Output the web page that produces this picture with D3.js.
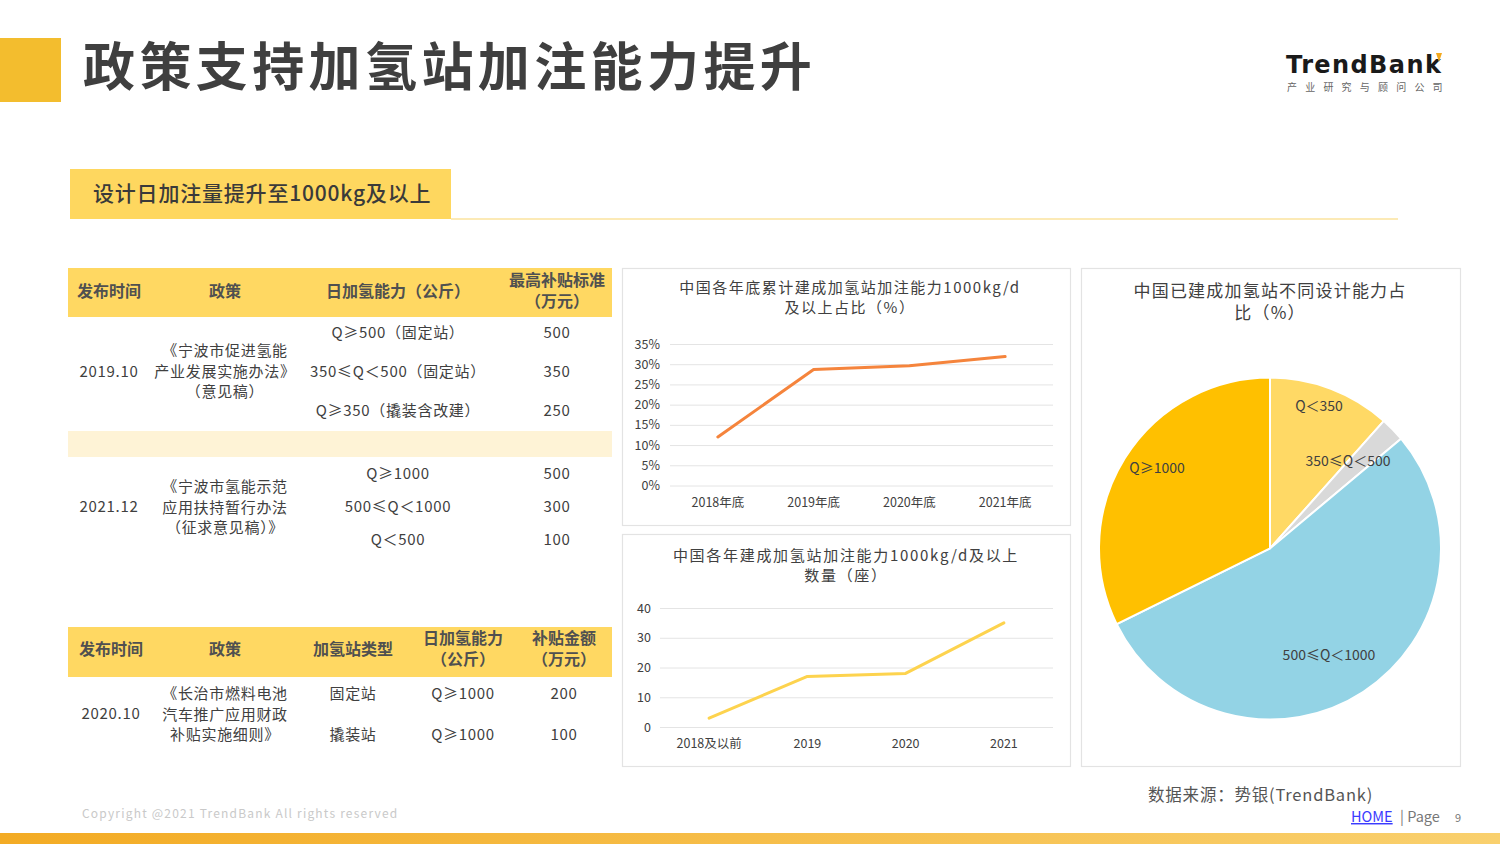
<!DOCTYPE html>
<html><head><meta charset="utf-8">
<script src="https://cdn.jsdelivr.net/npm/d3@7/dist/d3.min.js"></script>
<style>
html,body{margin:0;padding:0;background:#fff;}
svg{display:block;font-family:"Noto Sans CJK SC","Noto Sans",sans-serif;}
</style></head>
<body>
<svg id="c" width="1500" height="844"></svg>
<script>
// ---------- data ----------
const pageTitle = "政策支持加氢站加注能力提升";
const subTitle = "设计日加注量提升至1000kg及以上";

const ratioYears = ["2018年底","2019年底","2020年底","2021年底"];
const ratioValues = [12.0, 28.7, 29.6, 31.9];
const ratioTicks = [0,5,10,15,20,25,30,35];
const ratioTitle = ["中国各年底累计建成加氢站加注能力1000kg/d","及以上占比（%）"];

const countYears = ["2018及以前","2019","2020","2021"];
const countValues = [3, 17, 18, 35];
const countTicks = [0,10,20,30,40];
const countTitle = ["中国各年建成加氢站加注能力1000kg/d及以上","数量（座）"];

const pieLabels = ["Q＜350","350≤Q＜500","500≤Q＜1000","Q≥1000"];
const pieValues = [11.6, 2.3, 53.8, 32.3];
const pieTitle = ["中国已建成加氢站不同设计能力占","比（%）"];

const t1Header = [["发布时间"],["政策"],["日加氢能力（公斤）"],["最高补贴标准","（万元）"]];
const t1Dates = ["2019.10","2021.12"];
const t1Policies = [["《宁波市促进氢能","产业发展实施办法》","（意见稿）"],["《宁波市氢能示范","应用扶持暂行办法","（征求意见稿）》"]];
const t1Capacity = [["Q≥500（固定站）","350≤Q＜500（固定站）","Q≥350（撬装含改建）"],["Q≥1000","500≤Q＜1000","Q＜500"]];
const t1Subsidy = [["500","350","250"],["500","300","100"]];

const t2Header = [["发布时间"],["政策"],["加氢站类型"],["日加氢能力","（公斤）"],["补贴金额","（万元）"]];
const t2Date = "2020.10";
const t2Policy = ["《长治市燃料电池","汽车推广应用财政","补贴实施细则》"];
const t2Types = ["固定站","撬装站"];
const t2Capacity = ["Q≥1000","Q≥1000"];
const t2Subsidy = ["200","100"];

// ---------- drawing ----------
const svg = d3.select("#c");
const txt = "#404040";

// header
svg.append("rect").attr("x",0).attr("y",38).attr("width",61).attr("height",64).attr("fill","#F3BD2E");
svg.append("text").attr("x",83).attr("y",86).attr("font-size",52).attr("font-weight",700)
  .attr("letter-spacing",4.4).attr("fill","#3f3f3f").text(pageTitle);

// logo
svg.append("text").attr("x",1286).attr("y",73).attr("font-family","'DejaVu Sans',sans-serif").attr("font-size",24).attr("font-weight",700)
  .attr("fill","#1a1a1a").attr("letter-spacing",1.4).text("TrendBank");
svg.append("path").attr("d","M1436,53 l6,0 l-3,9 z").attr("fill","#F3A91F");
svg.append("text").attr("x",1287).attr("y",91).attr("font-size",10).attr("letter-spacing",8.2)
  .attr("fill","#666").text("产业研究与顾问公司");

// sub title box
svg.append("rect").attr("x",70).attr("y",169).attr("width",381).attr("height",50).attr("fill","#FED75F");
svg.append("text").attr("x",93).attr("y",201).attr("font-size",21).attr("font-weight",500)
  .attr("fill","#3a3a3a").attr("letter-spacing",0.8).text(subTitle);
svg.append("line").attr("x1",451).attr("x2",1398).attr("y1",219).attr("y2",219)
  .attr("stroke","#FBE39E").attr("stroke-width",1.5);

// ---------- table 1 ----------
const T = svg.append("g").attr("fill",txt).attr("font-size",15).attr("letter-spacing",0.7);
T.append("rect").attr("x",68).attr("y",268).attr("width",544).attr("height",49).attr("fill","#FFD862");
T.append("rect").attr("x",68).attr("y",431).attr("width",544).attr("height",26).attr("fill","#FEF3D6");
const t1Cols = [109, 225, 398, 557];
t1Header.forEach((lines,i)=>{
  const y0 = lines.length===1 ? 297 : 286;
  lines.forEach((l,j)=>T.append("text").attr("x",t1Cols[i]).attr("y",y0+j*21).attr("text-anchor","middle")
    .attr("font-weight",700).attr("fill","#505050").attr("letter-spacing",0).attr("font-size",16).text(l));
});
const t1RowYs = [[332,371,410],[473,506,539]];
const t1PolYs = [[350,371,391],[486,507,527]];
[0,1].forEach(g=>{
  T.append("text").attr("x",t1Cols[0]).attr("y",t1RowYs[g][1]+6).attr("text-anchor","middle").text(t1Dates[g]);
  t1Policies[g].forEach((l,j)=>T.append("text").attr("x",t1Cols[1]).attr("y",t1PolYs[g][j]+6).attr("text-anchor","middle").text(l));
  t1Capacity[g].forEach((l,j)=>T.append("text").attr("x",t1Cols[2]).attr("y",t1RowYs[g][j]+6).attr("text-anchor","middle").text(l));
  t1Subsidy[g].forEach((l,j)=>T.append("text").attr("x",t1Cols[3]).attr("y",t1RowYs[g][j]+6).attr("text-anchor","middle").text(l));
});

// ---------- table 2 ----------
T.append("rect").attr("x",68).attr("y",627).attr("width",544).attr("height",50).attr("fill","#FFD862");
const t2Cols = [111, 225, 353, 463, 564];
t2Header.forEach((lines,i)=>{
  const y0 = lines.length===1 ? 655 : 644;
  lines.forEach((l,j)=>T.append("text").attr("x",t2Cols[i]).attr("y",y0+j*21).attr("text-anchor","middle")
    .attr("font-weight",700).attr("fill","#505050").attr("letter-spacing",0).attr("font-size",16).text(l));
});
T.append("text").attr("x",t2Cols[0]).attr("y",719).attr("text-anchor","middle").text(t2Date);
t2Policy.forEach((l,j)=>T.append("text").attr("x",t2Cols[1]).attr("y",699+j*20.5).attr("text-anchor","middle").text(l));
[0,1].forEach(r=>{
  const y = r===0 ? 699 : 740;
  T.append("text").attr("x",t2Cols[2]).attr("y",y).attr("text-anchor","middle").text(t2Types[r]);
  T.append("text").attr("x",t2Cols[3]).attr("y",y).attr("text-anchor","middle").text(t2Capacity[r]);
  T.append("text").attr("x",t2Cols[4]).attr("y",y).attr("text-anchor","middle").text(t2Subsidy[r]);
});

// ---------- panels ----------
function panel(x,y,w,h){
  svg.append("rect").attr("x",x+0.5).attr("y",y+0.5).attr("width",w).attr("height",h)
    .attr("fill","#fff").attr("stroke","#E3E3E3").attr("stroke-width",1.2);
}
panel(622,268,448,257);
panel(622,534,448,232);
panel(1081,268,379,498);

function titleLines(lines, cx, y0, dy, size, ls){
  lines.forEach((l,j)=>svg.append("text").attr("x",cx).attr("y",y0+j*dy).attr("text-anchor","middle")
    .attr("font-size",size).attr("letter-spacing",ls).attr("fill",txt).text(l));
}

const tickFont = s=>s.selectAll(".tick text").attr("fill",txt).attr("font-size",12.5)
  .attr("font-family","'Noto Sans CJK SC',sans-serif");

// line chart 1
titleLines(ratioTitle, 850, 293, 20, 15, 1.5);
{
  const x = d3.scaleBand().domain(ratioYears).range([670,1053]);
  const y = d3.scaleLinear().domain([0,35]).range([485.5,344]);
  const g = svg.append("g");
  const ya = d3.axisLeft(y).tickValues(ratioTicks).tickFormat(d=>d+"%").tickSize(-383).tickPadding(10);
  g.append("g").attr("transform","translate(670,0)").call(ya)
    .call(s=>s.select(".domain").remove())
    .call(s=>s.selectAll(".tick line").attr("stroke","#E4E4E4").attr("stroke-width",1))
    .call(tickFont);
  const xa = d3.axisBottom(x).tickSize(0).tickPadding(13);
  g.append("g").attr("transform","translate(0,485.5)").call(xa)
    .call(s=>s.select(".domain").remove())
    .call(tickFont);
  const line = d3.line().x((d,i)=>x(ratioYears[i])+x.bandwidth()/2).y(d=>y(d));
  g.append("path").attr("d",line(ratioValues)).attr("fill","none").attr("stroke","#F5843C")
    .attr("stroke-width",3).attr("stroke-linecap","round").attr("stroke-linejoin","round");
}

// line chart 2
titleLines(countTitle, 846, 561, 20, 15, 1.7);
{
  const x = d3.scaleBand().domain(countYears).range([660,1053]);
  const y = d3.scaleLinear().domain([0,40]).range([727,608]);
  const g = svg.append("g");
  const ya = d3.axisLeft(y).tickValues(countTicks).tickSize(-393).tickPadding(9);
  g.append("g").attr("transform","translate(660,0)").call(ya)
    .call(s=>s.select(".domain").remove())
    .call(s=>s.selectAll(".tick line").attr("stroke","#E4E4E4").attr("stroke-width",1))
    .call(tickFont);
  const xa = d3.axisBottom(x).tickSize(0).tickPadding(12);
  g.append("g").attr("transform","translate(0,727)").call(xa)
    .call(s=>s.select(".domain").remove())
    .call(tickFont);
  const line = d3.line().x((d,i)=>x(countYears[i])+x.bandwidth()/2).y(d=>y(d));
  g.append("path").attr("d",line(countValues)).attr("fill","none").attr("stroke","#FDD34E")
    .attr("stroke-width",3).attr("stroke-linecap","round").attr("stroke-linejoin","round");
}

// pie
titleLines(pieTitle, 1270, 297, 22, 17, 1.2);
{
  const colors = ["#FFD965","#D9D9D9","#93D3E5","#FFC000"];
  const cx = 1270, cy = 548.5, r = 171;
  const pie = d3.pie().sort(null).value(d=>d)(pieValues);
  const arc = d3.arc().innerRadius(0).outerRadius(r);
  const g = svg.append("g").attr("transform",`translate(${cx},${cy})`);
  g.selectAll("path").data(pie).join("path").attr("d",arc)
    .attr("fill",(d,i)=>colors[i]).attr("stroke","#fff").attr("stroke-width",2);
  const labelPos = [[49,-138],[78,-83],[59,111],[-113,-76]];
  pieLabels.forEach((l,i)=>g.append("text").attr("x",labelPos[i][0]).attr("y",labelPos[i][1])
    .attr("text-anchor","middle").attr("font-size",14).attr("fill",txt).text(l));
}

// footer
svg.append("text").attr("x",1148).attr("y",801).attr("font-size",16.5).attr("letter-spacing",0.8)
  .attr("fill","#555").text("数据来源：势银(TrendBank)");
svg.append("text").attr("x",1351).attr("y",822).attr("font-size",14.5).attr("fill","#3b3bff")
  .attr("text-decoration","underline").text("HOME");
svg.append("text").attr("x",1400).attr("y",822).attr("font-size",14.5).attr("fill","#777").text("| Page");
svg.append("text").attr("x",1455).attr("y",822).attr("font-size",11).attr("fill","#777").text("9");
svg.append("text").attr("x",82).attr("y",818).attr("font-size",12).attr("letter-spacing",1.2)
  .attr("fill","#C9C9C9").text("Copyright @2021 TrendBank All rights reserved");

const grad = svg.append("defs").append("linearGradient").attr("id","bar");
grad.append("stop").attr("offset","0%").attr("stop-color","#F3AB24");
grad.append("stop").attr("offset","100%").attr("stop-color","#F9D06E");
svg.append("rect").attr("x",0).attr("y",833).attr("width",1500).attr("height",11).attr("fill","url(#bar)");
</script>
</body></html>
